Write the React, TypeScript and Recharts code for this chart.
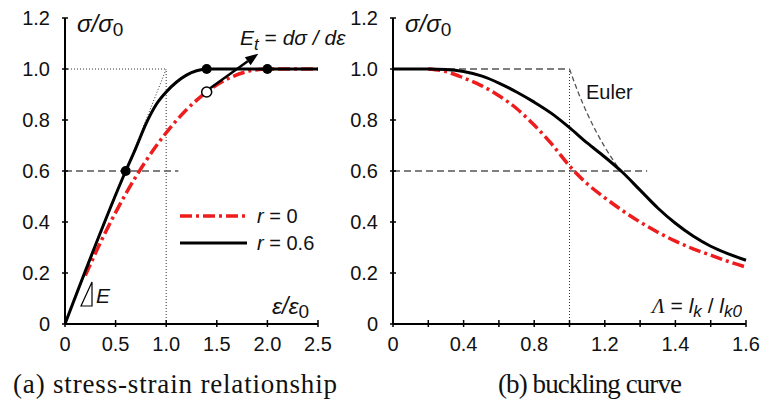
import React from 'react';
import { LineChart, Line, XAxis, YAxis, ReferenceLine, ReferenceDot } from 'recharts';

// (a) stress-strain relationship
const strainR0 = [0.2, 0.4, 0.6, 0.8, 1.0, 1.2, 1.4, 1.6, 1.8, 2.0, 2.5];
const stressR0 = [0.19, 0.36, 0.51, 0.64, 0.75, 0.84, 0.91, 0.96, 0.99, 1.0, 1.0];
const strainR06 = [0, 0.6, 0.7, 0.8, 0.9, 1.0, 1.1, 1.2, 1.3, 1.4, 2.5];
const stressR06 = [0, 0.6, 0.69, 0.785, 0.86, 0.91, 0.948, 0.976, 0.993, 1.0, 1.0];
const strainTicks = [0, 0.5, 1.0, 1.5, 2.0, 2.5];
const strainTickLabels = ['0', '0.5', '1.0', '1.5', '2.0', '2.5'];

// (b) buckling curve
const slendR0 = [0.2, 0.3, 0.4, 0.5, 0.6, 0.7, 0.8, 0.9, 1.0, 1.1, 1.2, 1.3, 1.4, 1.5, 1.6, 1.7, 1.8, 1.9, 2.0];
const buckR0 = [1.0, 0.99, 0.965, 0.935, 0.895, 0.845, 0.78, 0.705, 0.62, 0.55, 0.495, 0.445, 0.4, 0.36, 0.325, 0.295, 0.27, 0.245, 0.223];
const slendR06 = [0, 0.2, 0.3, 0.4, 0.5, 0.6, 0.7, 0.8, 0.9, 1.0, 1.1, 1.2, 1.3, 1.4, 1.5, 1.6, 1.7, 1.8, 1.9, 2.0];
const buckR06 = [1.0, 1.0, 0.998, 0.99, 0.973, 0.945, 0.91, 0.87, 0.825, 0.77, 0.71, 0.655, 0.595, 0.525, 0.455, 0.395, 0.345, 0.305, 0.275, 0.25];
const slendEuler = [1.0, 1.05, 1.1, 1.15, 1.2, 1.25, 1.29];
const buckEuler = [1.0, 0.907, 0.826, 0.756, 0.694, 0.64, 0.6];
const slendTicks = [0, 0.2, 0.4, 0.6, 0.8, 1.0, 1.2, 1.4, 1.6, 1.8, 2.0];
const slendTickLabels = ['0', '', '0.4', '', '0.8', '', '1.2', '', '1.4', '', '1.6'];

const stressTicks = [0, 0.2, 0.4, 0.6, 0.8, 1.0, 1.2];
const stressTickLabels = ['0', '0.2', '0.4', '0.6', '0.8', '1.0', '1.2'];

const toPts = (xs: number[], ys: number[]) => xs.map((x, i) => ({ x, y: ys[i] }));

const SANS = '"Liberation Sans", Arial, sans-serif';
const SERIF = '"Liberation Serif", "Times New Roman", serif';
const RED = '#ee1c1c';
const DASHDOT = '12 4 3 4';
const FS = 20;

const CH_H = 354;
const X_AXIS_H = 30;
const AXIS_Y = CH_H - X_AXIS_H;

const yTick = (axisX: number) => (props: any) => {
  const { y, index } = props;
  return (
    <g>
      <line x1={axisX - 3} x2={axisX + 3} y1={y} y2={y} stroke="#000" strokeWidth={1.5} />
      <text x={axisX - 15} y={y + 7} textAnchor="end" fontSize={FS} fontFamily={SANS} fill="#111">
        {stressTickLabels[index]}
      </text>
    </g>
  );
};

const xTick = (labels: string[]) => (props: any) => {
  const { x, index } = props;
  return (
    <g>
      <line x1={x} x2={x} y1={AXIS_Y - 4} y2={AXIS_Y + 3} stroke="#000" strokeWidth={1.5} />
      <text x={x} y={AXIS_Y + 26.5} textAnchor="middle" fontSize={FS} fontFamily={SANS} fill="#111">
        {labels[index]}
      </text>
    </g>
  );
};

const arrowShape = (props: any) => {
  const { x1, y1, x2, y2 } = props;
  const a = Math.atan2(y2 - y1, x2 - x1);
  const len = 13;
  const w = 5;
  const bx = x2 - len * Math.cos(a);
  const by = y2 - len * Math.sin(a);
  const px = -Math.sin(a) * w;
  const py = Math.cos(a) * w;
  return (
    <g>
      <line x1={x1} y1={y1} x2={bx} y2={by} stroke="#000" strokeWidth={2.5} />
      <polygon points={`${x2},${y2} ${bx + px},${by + py} ${bx - px},${by - py}`} fill="#000" />
    </g>
  );
};

const guideDash = { stroke: '#555', strokeWidth: 1.3, strokeDasharray: '7 4' };
const guideDot = { stroke: '#333', strokeWidth: 1, strokeDasharray: '1 2' };

const StressStrain = () => (
  <LineChart width={340} height={CH_H} margin={{ top: 18, right: 22, bottom: 0, left: 0 }}>
    <XAxis
      type="number"
      dataKey="x"
      domain={[0, 2.5]}
      ticks={strainTicks}
      interval={0}
      height={X_AXIS_H}
      axisLine={{ stroke: '#000', strokeWidth: 2 }}
      tickLine={false}
      tick={xTick(strainTickLabels)}
    />
    <YAxis
      type="number"
      dataKey="y"
      domain={[0, 1.2]}
      ticks={stressTicks}
      interval={0}
      width={65}
      axisLine={{ stroke: '#000', strokeWidth: 2 }}
      tickLine={false}
      tick={yTick(65)}
    />
    <ReferenceLine segment={[{ x: 0, y: 1 }, { x: 1, y: 1 }]} {...guideDot} />
    <ReferenceLine segment={[{ x: 1, y: 0 }, { x: 1, y: 1 }]} {...guideDot} />
    <ReferenceLine segment={[{ x: 0, y: 0 }, { x: 1, y: 1 }]} {...guideDot} />
    <ReferenceLine segment={[{ x: 0, y: 0.6 }, { x: 1.12, y: 0.6 }]} {...guideDash} />
    <Line
      data={toPts(strainR0, stressR0)}
      dataKey="y"
      type="monotone"
      stroke={RED}
      strokeWidth={3.5}
      strokeDasharray={DASHDOT}
      dot={false}
      isAnimationActive={false}
    />
    <Line
      data={toPts(strainR06, stressR06)}
      dataKey="y"
      type="monotone"
      stroke="#000"
      strokeWidth={3}
      dot={false}
      isAnimationActive={false}
    />
    <ReferenceLine segment={[{ x: 1.42, y: 0.921 }, { x: 1.91, y: 1.06 }]} shape={arrowShape} />
    <ReferenceDot x={0.6} y={0.6} r={5} fill="#000" stroke="none" />
    <ReferenceDot x={1.4} y={1.0} r={5} fill="#000" stroke="none" />
    <ReferenceDot x={2.0} y={1.0} r={5} fill="#000" stroke="none" />
    <ReferenceDot x={1.4} y={0.91} r={5} fill="#fff" stroke="#000" strokeWidth={1.5} />
  </LineChart>
);

const Buckling = () => (
  <LineChart width={420} height={CH_H} margin={{ top: 18, right: 14, bottom: 0, left: 0 }}>
    <XAxis
      type="number"
      dataKey="x"
      domain={[0, 2.0]}
      ticks={slendTicks}
      interval={0}
      height={X_AXIS_H}
      axisLine={{ stroke: '#000', strokeWidth: 2 }}
      tickLine={false}
      tick={xTick(slendTickLabels)}
    />
    <YAxis
      type="number"
      dataKey="y"
      domain={[0, 1.2]}
      ticks={stressTicks}
      interval={0}
      width={53}
      axisLine={{ stroke: '#000', strokeWidth: 2 }}
      tickLine={false}
      tick={yTick(53)}
    />
    <ReferenceLine segment={[{ x: 0, y: 1 }, { x: 1, y: 1 }]} {...guideDash} />
    <ReferenceLine segment={[{ x: 0, y: 0.6 }, { x: 1.44, y: 0.6 }]} {...guideDash} />
    <ReferenceLine segment={[{ x: 1, y: 0 }, { x: 1, y: 1 }]} {...guideDot} />
    <Line
      data={toPts(slendEuler, buckEuler)}
      dataKey="y"
      type="monotone"
      stroke="#555"
      strokeWidth={1.3}
      strokeDasharray="5 3"
      dot={false}
      isAnimationActive={false}
    />
    <Line
      data={toPts(slendR0, buckR0)}
      dataKey="y"
      type="monotone"
      stroke={RED}
      strokeWidth={3.5}
      strokeDasharray={DASHDOT}
      dot={false}
      isAnimationActive={false}
    />
    <Line
      data={toPts(slendR06, buckR06)}
      dataKey="y"
      type="monotone"
      stroke="#000"
      strokeWidth={3}
      dot={false}
      isAnimationActive={false}
    />
  </LineChart>
);

const Overlay = () => (
  <svg width={760} height={403} style={{ position: 'absolute', left: 0, top: 0, pointerEvents: 'none' }}>
    <g fontFamily={SANS} fill="#111">
      <text x={77} y={32} fontSize={24} fontStyle="italic">
        σ/σ<tspan fontSize={19} dy={4} fontStyle="normal">0</tspan>
      </text>
      <text x={405} y={32} fontSize={24} fontStyle="italic">
        σ/σ<tspan fontSize={19} dy={4} fontStyle="normal">0</tspan>
      </text>
      <text x={240} y={45} fontSize={21}>
        <tspan fontStyle="italic">E</tspan>
        <tspan fontSize={17} dy={5} fontStyle="italic">t</tspan>
        <tspan dy={-5}> = </tspan>
        <tspan fontStyle="italic">dσ / dε</tspan>
      </text>
      <text x={272} y={314} fontSize={23} fontStyle="italic">
        ε/ε<tspan fontSize={19} dy={4} fontStyle="normal">0</tspan>
      </text>
      <text x={652} y={313} fontSize={21}>
        <tspan fontFamily={SERIF} fontStyle="italic">Λ</tspan>
        <tspan> = </tspan>
        <tspan fontStyle="italic">l</tspan>
        <tspan fontSize={17} dy={4} fontStyle="italic">k</tspan>
        <tspan dy={-4}> / </tspan>
        <tspan fontStyle="italic">l</tspan>
        <tspan fontSize={17} dy={4} fontStyle="italic">k0</tspan>
      </text>
      <text x={586} y={99} fontSize={20}>Euler</text>
      <polygon points="81,306 92,306 92,282" fill="none" stroke="#000" strokeWidth={1.2} />
      <text x={96} y={303} fontSize={21} fontStyle="italic">E</text>
      <line x1={180} y1={216} x2={247} y2={216} stroke={RED} strokeWidth={3.5} strokeDasharray={DASHDOT} />
      <text x={257} y={223} fontSize={20}>
        <tspan fontStyle="italic">r</tspan> = 0
      </text>
      <line x1={180} y1={243} x2={247} y2={243} stroke="#000" strokeWidth={3} />
      <text x={257} y={250} fontSize={20}>
        <tspan fontStyle="italic">r</tspan> = 0.6
      </text>
    </g>
    <g fontFamily={SERIF} fill="#111" fontSize={27}>
      <text x={13} y={393} textLength={324} lengthAdjust="spacing">(a) stress-strain relationship</text>
      <text x={498} y={393} textLength={184} lengthAdjust="spacing">(b) buckling curve</text>
    </g>
  </svg>
);

export default function App() {
  return (
    <div style={{ position: 'absolute', left: 0, top: 0, width: 760, height: 403, background: '#fff' }}>
      <div style={{ position: 'absolute', left: 0, top: 0 }}>
        <StressStrain />
      </div>
      <div style={{ position: 'absolute', left: 340, top: 0 }}>
        <Buckling />
      </div>
      <Overlay />
    </div>
  );
}
